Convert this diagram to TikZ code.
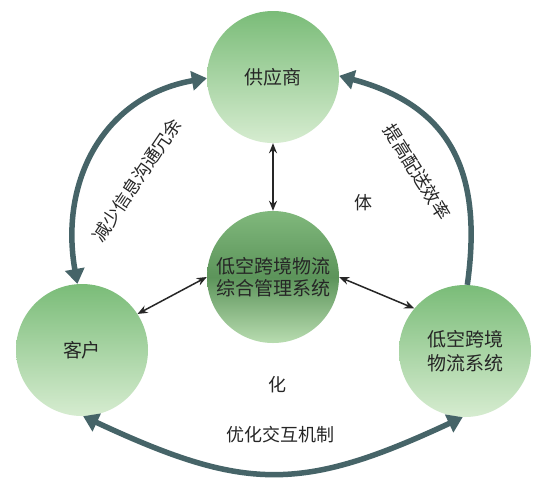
\documentclass[tikz,border=0pt]{standalone}
\usepackage{fontspec}
\newfontfamily\cjk{Noto Sans CJK SC}
\usetikzlibrary{arrows.meta}
\definecolor{arrowteal}{RGB}{70,100,104}
\definecolor{gtop}{RGB}{122,188,120}
\definecolor{gbot}{RGB}{214,236,208}
\definecolor{ctop}{RGB}{128,184,124}
\definecolor{cmid}{RGB}{92,148,90}
\definecolor{cbot}{RGB}{184,220,176}
\tikzset{
  ball/.style={circle, minimum size=132pt, inner sep=0pt, top color=gtop, bottom color=gbot,
    font=\cjk\fontsize{19}{24}\selectfont, align=center, text=black!85},
  centerball/.style={ball, top color=ctop, bottom color=cbot, middle color=cmid,
    font=\cjk\fontsize{19}{22}\selectfont},
  bigarrow/.style={line width=5.5pt, color=arrowteal},
  thinarrow/.style={line width=1.5pt, color=black!85, {Stealth[length=10pt,width=8pt]}-{Stealth[length=10pt,width=8pt]}},
  lbl/.style={font=\cjk\fontsize{18}{22}\selectfont, text=black!85, inner sep=0pt}
}
\begin{document}
\begin{tikzpicture}[x=1pt,y=-1pt]
\path[use as bounding box, fill=white] (0,0) rectangle (544,483);
\node[ball] (gys) at (273,77) {供应商};
\node[ball] (kehu) at (82,350) {客户};
\node[ball] (lwl) at (465,351) {低空跨境\\物流系统};
\node[centerball] (zh) at (273,277) {低空跨境物流\\综合管理系统};

% big arcs
\draw[bigarrow, {Triangle[length=15pt,width=19pt]}-{Triangle[length=15pt,width=19pt]}]
  (kehu.94) to[out=100, in=190, looseness=1.1] (gys.181);
\draw[bigarrow, -{Triangle[length=15pt,width=19pt]}]
  (lwl.88) to[out=82, in=-15, looseness=1.2] (gys.1);
\draw[bigarrow, {Triangle[length=15pt,width=19pt]}-{Triangle[length=15pt,width=19pt]}]
  (kehu.-89) to[out=-25, in=205, looseness=1.2] (lwl.-92);

% thin arrows
\draw[thinarrow] (gys.south) -- (zh.north);
\draw[thinarrow] (zh.west) -- (kehu.33);
\draw[thinarrow] (zh.east) -- (lwl.140);

% labels
\node[lbl, rotate=56] (l1) at (137,180) {减少信息沟通冗余};
\node[lbl, rotate=-58] (l2) at (417,172) {提高配送效率};
\node[lbl] (l3) at (280,435) {优化交互机制};
\node[lbl] (t1) at (363,203) {体};
\node[lbl] (t2) at (277,385) {化};
\end{tikzpicture}
\end{document}
